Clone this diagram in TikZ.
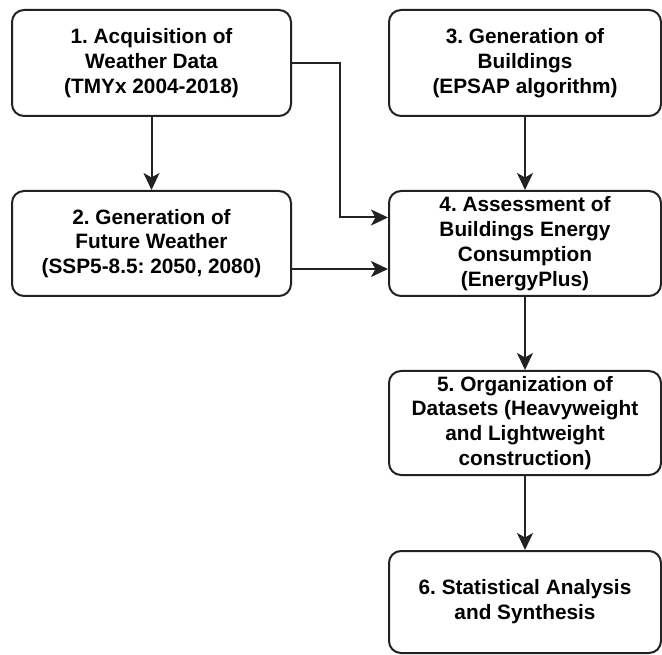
\documentclass[tikz,border=0pt]{standalone}
\usepackage{fontspec}
\setmainfont{Liberation Sans}
\usetikzlibrary{arrows.meta,calc}
\definecolor{edge}{HTML}{222222}
\frenchspacing
\begin{document}
\begin{tikzpicture}[x=1pt,y=-1pt,
  box/.style={draw=edge,line width=2pt,rounded corners=12pt,rectangle,align=center,
    font=\fontsize{20.8}{24.8}\selectfont\bfseries,inner sep=0pt,text=black},
  conn/.style={draw=edge,line width=2pt,-{Stealth[length=17pt,width=16pt,inset=4.5pt]}}]
\useasboundingbox (0,0) rectangle (662,655);
\node[box,minimum width=279pt,minimum height=106pt] (b1) at (151.5,63)
  {1. Acquisition of\\Weather Data\\(TMYx 2004-2018)};
\node[box,minimum width=279pt,minimum height=105pt] (b2) at (151.5,243.5)
  {2. Generation of\\Future Weather\\(SSP5-8.5: 2050, 2080)};
\node[box,minimum width=272pt,minimum height=106pt] (b3) at (525,63)
  {3. Generation of\\Buildings\\(EPSAP algorithm)};
\node[box,minimum width=272pt,minimum height=105pt] (b4) at (525,243.5)
  {4. Assessment of\\Buildings Energy\\Consumption\\(EnergyPlus)};
\node[box,minimum width=272pt,minimum height=104pt] (b5) at (525,423)
  {5. Organization of\\Datasets (Heavyweight\\and Lightweight\\construction)};
\node[box,minimum width=272pt,minimum height=102pt] (b6) at (525,602)
  {6. Statistical Analysis\\and Synthesis};
\coordinate (k1) at (340,63);
\coordinate (in1) at ($(b4.west)+(0,-26)$);
\coordinate (in2) at ($(b4.west)+(0,25.5)$);
\coordinate (out2) at ($(b2.east)+(0,25.5)$);
\draw[conn] (b1.south) -- (b2.north);
\draw[conn] (b1.east) -- (k1) |- (in1);
\draw[conn] (out2) -- (in2);
\draw[conn] (b3.south) -- (b4.north);
\draw[conn] (b4.south) -- (b5.north);
\draw[conn] (b5.south) -- (b6.north);
\end{tikzpicture}
\end{document}
